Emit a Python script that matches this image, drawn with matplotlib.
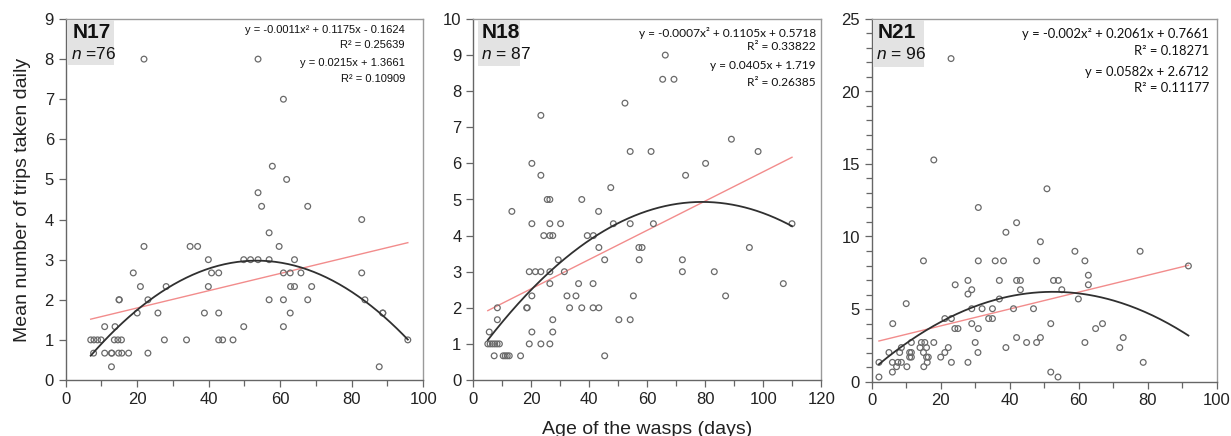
import matplotlib
matplotlib.use("Agg")
import matplotlib.pyplot as plt
from matplotlib.patches import Rectangle
from matplotlib.ticker import MultipleLocator
import numpy as np

# ---------------- data ----------------
# N17
x17 = [54.8, 67.7, 82.8, 56.9, 21.9, 34.8, 36.9, 59.7, 39.9, 49.8, 51.7, 53.8, 56.9, 64.0,
       18.9, 40.8, 42.8, 60.9, 62.8, 65.8, 82.8, 20.9, 28.1, 39.9, 62.9, 64.0, 68.8,
       14.9, 15.0, 23.0, 56.9, 60.9, 67.7, 83.7, 20.0, 25.8, 38.8, 42.8, 62.8, 88.7, 88.7,
       10.9, 13.8, 49.8, 60.9, 7.0, 7.9, 8.9, 9.9, 13.6, 14.6, 15.6, 27.6, 33.8, 42.8,
       43.9, 46.8, 95.7, 7.8, 10.9, 12.8, 12.9, 14.8, 15.7, 17.6, 23.0, 12.8, 87.7,
       21.9, 53.8, 60.9, 57.8, 61.8, 53.8]
y17 = [4.33, 4.33, 4.0, 3.67, 3.33, 3.33, 3.33, 3.33, 3.0, 3.0, 3.0, 3.0, 3.0, 3.0,
       2.67, 2.67, 2.67, 2.67, 2.67, 2.67, 2.67, 2.33, 2.33, 2.33, 2.33, 2.33, 2.33,
       2.0, 2.0, 2.0, 2.0, 2.0, 2.0, 2.0, 1.67, 1.67, 1.67, 1.67, 1.67, 1.67, 1.67,
       1.33, 1.33, 1.33, 1.33, 1.0, 1.0, 1.0, 1.0, 1.0, 1.0, 1.0, 1.0, 1.0, 1.0,
       1.0, 1.0, 1.0, 0.67, 0.67, 0.67, 0.67, 0.67, 0.67, 0.67, 0.67, 0.33, 0.33,
       8.0, 8.0, 7.0, 5.33, 5.0, 4.67]

# N18
x18 = [66.2, 65.3, 69.2, 52.3, 23.3, 89.0, 54.1, 61.3, 98.2, 20.2, 80.1, 23.3, 73.2, 47.4,
       25.5, 26.4, 37.4, 13.3, 43.2,
       20.2, 26.4, 30.1, 48.3, 54.1, 62.1, 109.9,
       24.3, 26.4, 27.4, 39.3, 41.4,
       43.3, 57.1, 58.2, 95.2,
       29.3, 45.3, 57.2, 72.1,
       19.3, 21.4, 23.3, 26.4, 31.4, 72.1, 83.1,
       26.4, 36.3, 41.3, 106.9,
       20.2, 32.3, 35.4, 55.2, 87.0,
       8.3, 18.4, 18.6, 33.2, 37.4, 41.3, 43.3,
       8.3, 27.4, 50.2, 54.1,
       5.5, 20.2, 27.4,
       5.0, 5.8, 6.6, 7.4, 8.2, 9.0, 19.3, 23.3, 26.4,
       7.2, 10.3, 11.0, 11.7, 12.4, 16.3, 45.3]
y18 = [9.0, 8.33, 8.33, 7.67, 7.33, 6.67, 6.33, 6.33, 6.33, 6.0, 6.0, 5.67, 5.67, 5.33,
       5.0, 5.0, 5.0, 4.67, 4.67,
       4.33, 4.33, 4.33, 4.33, 4.33, 4.33, 4.33,
       4.0, 4.0, 4.0, 4.0, 4.0,
       3.67, 3.67, 3.67, 3.67,
       3.33, 3.33, 3.33, 3.33,
       3.0, 3.0, 3.0, 3.0, 3.0, 3.0, 3.0,
       2.67, 2.67, 2.67, 2.67,
       2.33, 2.33, 2.33, 2.33, 2.33,
       2.0, 2.0, 2.0, 2.0, 2.0, 2.0, 2.0,
       1.67, 1.67, 1.67, 1.67,
       1.33, 1.33, 1.33,
       1.0, 1.0, 1.0, 1.0, 1.0, 1.0, 1.0, 1.0, 1.0,
       0.67, 0.67, 0.67, 0.67, 0.67, 0.67, 0.67]

# N21
x21 = [23.0, 18.0, 50.8, 30.9, 42.0, 38.9, 48.9, 58.9, 77.8, 15.0, 30.9, 35.8, 38.2, 47.8,
       61.8, 91.8, 62.8, 27.9, 37.0, 42.0, 43.1, 52.7, 54.1, 24.2, 62.8, 29.0, 43.1, 55.1,
       27.9, 37.0, 59.9, 10.0, 29.0, 32.0, 35.0, 41.1, 46.9, 21.2, 23.1, 33.9, 35.0,
       6.1, 29.0, 51.9, 66.9, 24.1, 25.0, 30.9, 64.9, 42.0, 48.9, 72.9,
       11.5, 14.4, 15.4, 18.0, 30.0, 44.9, 47.8, 61.8,
       8.6, 14.0, 15.9, 22.2, 38.9, 71.9,
       5.0, 8.1, 11.0, 11.5, 15.0, 21.2, 30.8,
       11.0, 11.5, 15.9, 16.4, 20.0,
       2.1, 6.0, 7.6, 8.6, 16.1, 23.1, 27.9, 78.7,
       7.2, 10.2, 15.1, 6.0, 2.1, 51.9, 54.0]
y21 = [22.27, 15.28, 13.29, 12.0, 10.95, 10.29, 9.64, 8.98, 8.98, 8.32, 8.32, 8.32, 8.32, 8.32,
       8.32, 7.97, 7.33, 6.97, 6.97, 6.97, 6.97, 6.97, 6.97, 6.67, 6.67, 6.33, 6.33, 6.33,
       6.03, 5.69, 5.69, 5.37, 5.02, 5.02, 5.02, 5.02, 5.02, 4.34, 4.34, 4.34, 4.34,
       3.99, 3.99, 3.99, 3.99, 3.65, 3.65, 3.65, 3.65, 3.03, 3.03, 3.03,
       2.69, 2.69, 2.69, 2.69, 2.69, 2.69, 2.69, 2.69,
       2.34, 2.34, 2.34, 2.34, 2.34, 2.34,
       2.0, 2.0, 2.0, 2.0, 2.0, 2.0, 2.0,
       1.68, 1.68, 1.68, 1.68, 1.68,
       1.32, 1.32, 1.32, 1.32, 1.32, 1.32, 1.32, 1.32,
       1.02, 1.02, 1.02, 0.65, 0.31, 0.65, 0.31]

# trend line coefficients (quadratic: a, b, c ; linear: m, k)
quad17 = [-0.0011, 0.1175, -0.1624]
lin17 = [0.0215, 1.3661]
quad18 = [-0.0007, 0.1105, 0.5718]
lin18 = [0.0405, 1.719]
quad21 = [-0.00196, 0.2061, 0.7661]
lin21 = [0.0582, 2.6712]

names = ["N17", "N18", "N21"]
ns = [" =76", " = 87", " = 96"]
eqs = [["y = -0.0011x² + 0.1175x - 0.1624", "R² = 0.25639", "y = 0.0215x + 1.3661", "R² = 0.10909"],
       ["y = -0.0007x² + 0.1105x + 0.5718", "R² = 0.33822", "y = 0.0405x + 1.719", "R² = 0.26385"],
       ["y = -0.002x² + 0.2061x + 0.7661", "R² = 0.18271", "y = 0.0582x + 2.6712", "R² = 0.11177"]]
xmax = [100, 120, 100]
ymax = [9, 10, 25]

# ---------------- figure ----------------
W, H = 1231, 436
plt.rcParams['font.family'] = ['Liberation Sans', 'DejaVu Sans']
plt.rcParams['mathtext.fontset'] = 'custom'
plt.rcParams['mathtext.rm'] = 'Liberation Sans'
plt.rcParams['mathtext.it'] = 'Liberation Sans:italic'
fig = plt.figure(figsize=(W / 100, H / 100), dpi=100)

boxes_px = [(65.7, 19, 423.2, 380), (473.3, 19, 821.3, 380), (871.7, 19, 1216.7, 381.5)]
eq_font = [("Liberation Sans", 8.0), ("Lato", 8.6), ("Lato", 9.4)]
eq_right = [0.949, 0.985, 0.978]
eq_y = [[0.970, 0.928, 0.878, 0.834], [0.961, 0.925, 0.870, 0.825], [0.958, 0.911, 0.853, 0.809]]
lab_box = [(0.006, 0.135, 0.873), (0.013, 0.135, 0.870), (0.004, 0.151, 0.868)]

datasets = [(x17, y17, quad17, lin17), (x18, y18, quad18, lin18), (x21, y21, quad21, lin21)]

for i, (xs, ys, q, l) in enumerate(datasets):
    x0, y0, x1, y1 = boxes_px[i]
    ax = fig.add_axes([x0 / W, 1 - y1 / H, (x1 - x0) / W, (y1 - y0) / H])
    ax.set_xlim(0, xmax[i])
    ax.set_ylim(0, ymax[i])
    xs = np.array(xs)
    ys = np.array(ys)
    ax.scatter(xs, ys, s=17, facecolors='none', edgecolors='#6a6a6a', linewidths=0.9, zorder=3)
    xx = np.linspace(xs.min(), xs.max(), 200)
    ax.plot(xx, l[0] * xx + l[1], color='#f28c8c', lw=1.0, zorder=2)
    ax.plot(xx, q[0] * xx ** 2 + q[1] * xx + q[2], color='#303030', lw=1.3, zorder=4)

    ax.xaxis.set_major_locator(MultipleLocator(20))
    ax.xaxis.set_minor_locator(MultipleLocator(10))
    if i == 2:
        ax.yaxis.set_major_locator(MultipleLocator(5))
        ax.yaxis.set_minor_locator(MultipleLocator(1))
    else:
        ax.yaxis.set_major_locator(MultipleLocator(1))
    ax.tick_params(which='both', direction='out', color='#666666', labelsize=12,
                   labelcolor='#222222', width=0.9)
    ax.tick_params(which='major', length=5)
    ax.tick_params(which='minor', length=4)
    for side in ['left', 'bottom']:
        ax.spines[side].set_color('#666666')
        ax.spines[side].set_linewidth(1.0)
    for side in ['top', 'right']:
        ax.spines[side].set_color('#9a9a9a')
        ax.spines[side].set_linewidth(1.0)

    # label box
    bx0, bx1, by0 = lab_box[i]
    ax.add_patch(Rectangle((bx0, by0), bx1 - bx0, 0.997 - by0, transform=ax.transAxes,
                           facecolor='#e3e3e3', edgecolor='none', zorder=5))
    ax.text(bx0 + 0.012, 0.962, names[i], transform=ax.transAxes, fontsize=15,
            fontweight='bold', va='center', ha='left', color='#111111', zorder=6)
    ax.text(bx0 + 0.008, 0.903, r"$n$" + ns[i], transform=ax.transAxes,
            fontsize=12.5, va='center', ha='left', color='#111111', zorder=6)

    fam, fs = eq_font[i]
    for t, yy in zip(eqs[i], eq_y[i]):
        ax.text(eq_right[i], yy, t, transform=ax.transAxes, ha='right', va='center',
                fontsize=fs, family=[fam, 'DejaVu Sans'], color='#111111', zorder=6)

    if i == 0:
        ax.set_ylabel("Mean number of trips taken daily", fontsize=14, color='#222222', labelpad=10)

fig.text(647 / W, 1 - 429 / H, "Age of the wasps (days)", ha='center', va='center',
         fontsize=14, color='#222222')

fig.savefig("out.png", dpi=100)
